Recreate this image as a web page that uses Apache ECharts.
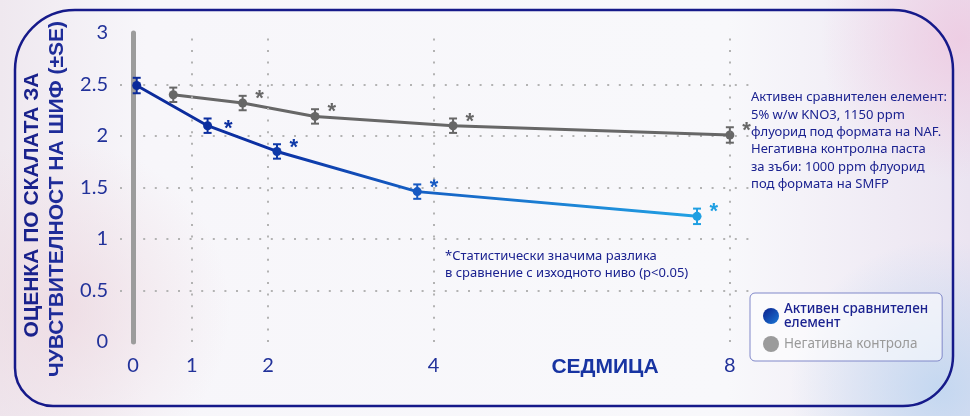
<!DOCTYPE html>
<html>
<head>
    <meta charset="utf-8">
    <title>ECharts</title>
    <script src="https://cdn.jsdelivr.net/npm/echarts@6/dist/echarts.min.js"></script>
</head>
<style>
    html, body {
        margin: 0;
        padding: 0;
    }
    #main {
        width: 970px;
        height: 416px;
    }
</style>
<body>
    <div id="main"></div>
    <script type="text/javascript">
        // x axis: tick positions on the drawn axis and their week labels
        var xTickPos = [0, 0.79, 1.81, 4.03, 8];
        var xTickLabels = ['0', '1', '2', '4', '8'];
        var yTicks = [0, 0.5, 1, 1.5, 2, 2.5, 3];

        // active comparator
        var blueName = 'Активен сравнителен елемент';
        var blueX = [0.05, 1.0, 1.93, 3.81, 7.56];
        var blueY = [2.49, 2.10, 1.85, 1.46, 1.22];
        var blueSE = [0.075, 0.07, 0.07, 0.07, 0.075];
        var blueSig = [0, 1, 1, 1, 1];

        // negative control
        var grayName = 'Негативна контрола';
        var grayX = [0.54, 1.47, 2.44, 4.29, 8.0];
        var grayY = [2.40, 2.32, 2.19, 2.10, 2.01];
        var graySE = [0.07, 0.07, 0.07, 0.07, 0.075];
        var graySig = [0, 1, 1, 1, 1];

        var blueColors = ['#0b2a9a', '#0b2e9f', '#0f3aa8', '#1659c2', '#1f9fe2'];
        var grayColor = '#676767';
        var navy = '#1b2290';
        var txtFont = "'Noto Sans', 'DejaVu Sans', sans-serif";

        function pointData(xs, ys, sig, colors, shift) {
            var out = [];
            for (var i = 0; i < xs.length; i++) {
                out.push({
                    value: [xs[i], ys[i]],
                    itemStyle: { color: colors[i] },
                    label: {
                        show: !!sig[i],
                        color: colors[i],
                        offset: shift[i] || [3, -4]
                    }
                });
            }
            return out;
        }

        function errorSeries(name, xs, ys, se, colors) {
            var data = [];
            for (var i = 0; i < xs.length; i++) {
                data.push([xs[i], ys[i] - se[i], ys[i] + se[i]]);
            }
            return {
                type: 'custom',
                name: name,
                z: 5,
                silent: true,
                data: data,
                encode: { x: 0, y: [1, 2] },
                renderItem: function (params, api) {
                    var lo = api.coord([api.value(0), api.value(1)]);
                    var hi = api.coord([api.value(0), api.value(2)]);
                    var w = 4;
                    var st = { stroke: colors[params.dataIndex], lineWidth: 2 };
                    return {
                        type: 'group',
                        children: [
                            { type: 'line', shape: { x1: lo[0], y1: lo[1], x2: hi[0], y2: hi[1] }, style: st },
                            { type: 'line', shape: { x1: lo[0] - w, y1: lo[1], x2: lo[0] + w, y2: lo[1] }, style: st },
                            { type: 'line', shape: { x1: hi[0] - w, y1: hi[1], x2: hi[0] + w, y2: hi[1] }, style: st }
                        ]
                    };
                }
            };
        }

        var grayColors = xTickPos.map(function () { return grayColor; });
        var dotted = { color: '#b3b3b3', width: 2, type: [2, 9.6] };

        var blueLine = new echarts.graphic.LinearGradient(0, 0, 1, 0, [
            { offset: 0, color: '#0b2a9a' },
            { offset: 0.25, color: '#0c31a4' },
            { offset: 0.5, color: '#1560c4' },
            { offset: 1, color: '#22a2e4' }
        ]);
        var blueDot = new echarts.graphic.LinearGradient(0, 0, 1, 1, [
            { offset: 0, color: '#0a1f8c' },
            { offset: 1, color: '#1a78d6' }
        ]);

        var option = {
            backgroundColor: new echarts.graphic.LinearGradient(0, 0, 1, 0, [
                { offset: 0, color: '#efe8ef' },
                { offset: 0.15, color: '#f7f6fa' },
                { offset: 0.75, color: '#f8f8fb' },
                { offset: 1, color: '#ebe4f1' }
            ]),
            animation: false,
            grid: { left: 120, right: 220, top: 33, bottom: 74 },
            xAxis: {
                type: 'value',
                min: -0.174,
                max: 8.27,
                axisLine: { show: false },
                axisTick: { show: false },
                splitLine: { show: false },
                axisLabel: {
                    customValues: xTickPos,
                    margin: 14,
                    fontSize: 20,
                    fontFamily: 'Lato, Roboto, sans-serif',
                    color: '#22329a',
                    formatter: function (v) {
                        var i = xTickPos.indexOf(v);
                        return i < 0 ? '' : xTickLabels[i];
                    }
                }
            },
            yAxis: {
                type: 'value',
                min: yTicks[0],
                max: yTicks[yTicks.length - 1],
                interval: 0.5,
                axisLine: { show: true, lineStyle: { color: '#9c9c9c', width: 5 } },
                axisTick: { show: false },
                axisLabel: {
                    margin: 12,
                    fontSize: 20,
                    fontFamily: 'Lato, Roboto, sans-serif',
                    color: '#22329a'
                },
                splitLine: { show: true, showMinLine: false, showMaxLine: false, lineStyle: dotted }
            },
            legend: {
                left: 750,
                top: 293,
                orient: 'vertical',
                selectedMode: false,
                padding: [9, 14, 9, 13],
                itemGap: 6,
                itemWidth: 16,
                itemHeight: 16,
                icon: 'circle',
                backgroundColor: 'rgba(255,255,255,0.55)',
                borderColor: '#8088c9',
                borderWidth: 1,
                borderRadius: 5,
                formatter: function (n) {
                    return n === blueName ? 'Активен сравнителен\nелемент' : n;
                },
                textStyle: { fontFamily: txtFont, fontSize: 13.5, lineHeight: 14 },
                data: [
                    { name: blueName, itemStyle: { color: blueDot }, textStyle: { color: navy, fontWeight: 500 } },
                    { name: grayName, itemStyle: { color: '#9b9b9b' }, textStyle: { color: '#9a9a9a' } }
                ]
            },
            graphic: [
                {
                    type: 'circle', z: -10, silent: true,
                    shape: { cx: 60, cy: 310, r: 170 },
                    style: { fill: new echarts.graphic.RadialGradient(0.5, 0.5, 0.5, [
                        { offset: 0, color: 'rgba(236,214,222,0.7)' },
                        { offset: 1, color: 'rgba(236,214,222,0)' }
                    ]) }
                },
                {
                    type: 'circle', z: -10, silent: true,
                    shape: { cx: 960, cy: 40, r: 140 },
                    style: { fill: new echarts.graphic.RadialGradient(0.5, 0.5, 0.5, [
                        { offset: 0, color: 'rgba(238,200,224,0.8)' },
                        { offset: 1, color: 'rgba(238,200,224,0)' }
                    ]) }
                },
                {
                    type: 'circle', z: -10, silent: true,
                    shape: { cx: 940, cy: 390, r: 150 },
                    style: { fill: new echarts.graphic.RadialGradient(0.5, 0.5, 0.5, [
                        { offset: 0, color: 'rgba(186,212,240,0.8)' },
                        { offset: 1, color: 'rgba(186,212,240,0)' }
                    ]) }
                },
                {
                    type: 'rect', silent: true, z: 10,
                    shape: { x: 15, y: 10, width: 938, height: 396, r: [60, 60, 50, 38] },
                    style: { fill: 'none', stroke: '#161a8a', lineWidth: 2.5 }
                },
                {
                    type: 'text', x: 32, y: 205, rotation: Math.PI / 2, z: 10,
                    style: {
                        text: 'ОЦЕНКА ПО СКАЛАТА ЗА',
                        align: 'center', verticalAlign: 'middle',
                        font: "bold 21px 'Liberation Sans Narrow', 'Arial Narrow', sans-serif",
                        fill: '#1a228c'
                    }
                },
                {
                    type: 'text', x: 57, y: 199, rotation: Math.PI / 2, z: 10,
                    style: {
                        text: 'ЧУВСТВИТЕЛНОСТ НА ШИФ (±SE)',
                        align: 'center', verticalAlign: 'middle',
                        font: "bold 21px 'Liberation Sans Narrow', 'Arial Narrow', sans-serif",
                        fill: '#1e2c99'
                    }
                },
                {
                    type: 'text', x: 605, y: 367, z: 10,
                    style: {
                        text: 'СЕДМИЦА',
                        align: 'center', verticalAlign: 'middle',
                        font: "bold 21px 'Liberation Sans', Arial, sans-serif",
                        fill: '#1834a2'
                    }
                },
                {
                    type: 'text', left: 751, top: 89, z: 10,
                    style: {
                        text: 'Активен сравнителен елемент:\n5% w/w KNO3, 1150 ppm\nфлуорид под формата на NAF.\nНегативна контролна паста\nза зъби: 1000 ppm флуорид\nпод формата на SMFP',
                        font: "13px 'Noto Sans', 'DejaVu Sans', sans-serif",
                        lineHeight: 17.3,
                        fill: navy
                    }
                },
                {
                    type: 'text', left: 445, top: 248, z: 10,
                    style: {
                        text: '*Статистически значима разлика\nв сравнение с изходното ниво (p<0.05)',
                        font: "13px 'Noto Sans', 'DejaVu Sans', sans-serif",
                        lineHeight: 17,
                        fill: navy
                    }
                }
            ],
            series: [
                {
                    name: grayName,
                    type: 'line',
                    z: 3,
                    symbol: 'circle',
                    symbolSize: 9,
                    lineStyle: { color: grayColor, width: 3 },
                    itemStyle: { color: grayColor },
                    label: {
                        position: 'right',
                        formatter: '*',
                        fontSize: 22,
                        fontWeight: 'bold',
                        fontFamily: 'Liberation Sans, Arial, sans-serif'
                    },
                    data: pointData(grayX, grayY, graySig, grayColors, []),
                    markLine: {
                        silent: true,
                        symbol: 'none',
                        label: { show: false },
                        lineStyle: dotted,
                        data: xTickPos.slice(1).map(function (v) { return { xAxis: v }; })
                    }
                },
                {
                    name: blueName,
                    type: 'line',
                    z: 4,
                    symbol: 'circle',
                    symbolSize: 9,
                    lineStyle: { color: blueLine, width: 3 },
                    itemStyle: { color: blueColors[0] },
                    label: {
                        position: 'right',
                        formatter: '*',
                        fontSize: 22,
                        fontWeight: 'bold',
                        fontFamily: 'Liberation Sans, Arial, sans-serif'
                    },
                    data: pointData(blueX, blueY, blueSig, blueColors, [null, [7, 3]])
                },
                errorSeries('errGray', grayX, grayY, graySE, grayColors),
                errorSeries('errBlue', blueX, blueY, blueSE, blueColors)
            ]
        };

        var myChart = echarts.init(document.getElementById('main'));
        myChart.setOption(option);
    </script>
</body>
</html>
